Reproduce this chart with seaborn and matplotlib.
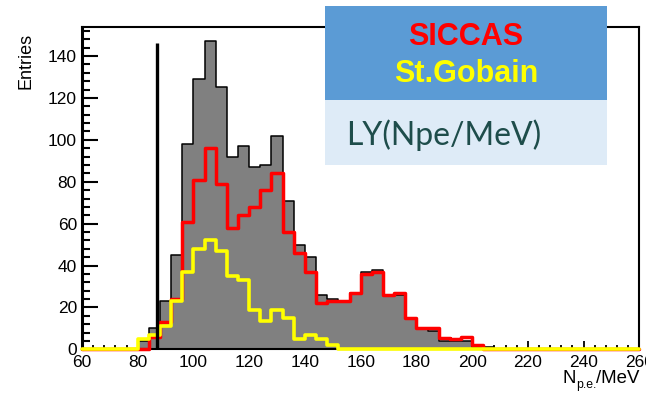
import numpy as np
import pandas as pd
import matplotlib
matplotlib.use("Agg")
import matplotlib.pyplot as plt
import seaborn as sns
from matplotlib.patches import Rectangle
from matplotlib.ticker import MultipleLocator

# ---------------- data ----------------
bin_low, bin_high, bin_width = 60, 260, 4
# total (grey filled) histogram, 4-unit bins from 60 to 260
grey_counts = [0, 0, 0, 0, 0, 4, 10, 23, 45, 98,
               129, 147, 125, 92, 97, 87, 88, 102, 71, 50,
               44, 26, 24, 23, 27, 37, 38, 26, 26, 15,
               10, 9, 4, 4, 4, 1, 1, 0, 0, 0,
               0, 0, 0, 0, 0, 0, 0, 0, 0, 0]
siccas_counts = [0, 0, 0, 0, 0, 0, 6, 13, 24, 61,
                 81, 96, 79, 58, 64, 68, 76, 84, 56, 46,
                 37, 22, 23, 23, 27, 36, 37, 26, 27, 15,
                 10, 10, 5.5, 5, 6, 2, 0, 0, 0, 0,
                 0, 0, 0, 0, 0, 0, 0, 0, 0, 0]
stgobain_counts = [0, 0, 0, 0, 0, 5, 7, 11, 23, 37,
                   48, 52, 47, 35, 33, 19, 13.5, 19, 15, 5,
                   7, 5, 2, 0, 0, 0, 0, 0, 0, 0,
                   0, 0, 0, 0, 0, 0, 0, 0, 0, 0,
                   0, 0, 0, 0, 0, 0, 0, 0, 0, 0]
x_ticks = [60, 80, 100, 120, 140, 160, 180, 200, 220, 240, 260]
y_ticks = [0, 20, 40, 60, 80, 100, 120, 140]
cut_position = 87
cut_height = 146
legend_titles = ["SICCAS", "St.Gobain"]
legend_subtitle = "LY(Npe/MeV)"
x_label_parts = ["N", "p.e.", "/MeV"]
y_label = "Entries"

# ---------------- style ----------------
sns.set_theme(style="ticks")
plt.rcParams['font.family'] = ['Liberation Sans', 'DejaVu Sans']

edges = np.arange(bin_low, bin_high + bin_width, bin_width)
bin_list = [float(e) for e in edges]
centers = edges[:-1] + bin_width / 2
df = pd.DataFrame({"npe": centers, "grey": grey_counts})
# step outlines (bin edges with the last height repeated)
steps = pd.DataFrame({
    "edge": edges,
    "siccas": list(siccas_counts) + [siccas_counts[-1]],
    "stgobain": list(stgobain_counts) + [stgobain_counts[-1]],
})

fig = plt.figure(figsize=(6.46, 3.93), dpi=100)
ax = fig.add_axes([82 / 646, 1 - 349.4 / 393, (639.3 - 82) / 646, (349.4 - 26.7) / 393])

sns.histplot(data=df, x="npe", weights="grey", bins=bin_list, element="step",
             fill=True, color="#808080", alpha=1, edgecolor="black",
             linewidth=1.1, ax=ax, zorder=2)
sns.lineplot(data=steps, x="edge", y="siccas", drawstyle="steps-post",
             estimator=None, sort=False, color="#ff0000", linewidth=2.5,
             ax=ax, zorder=3, clip_on=False)
sns.lineplot(data=steps, x="edge", y="stgobain", drawstyle="steps-post",
             estimator=None, sort=False, color="#ffff00", linewidth=2.6,
             ax=ax, zorder=4, clip_on=False)
ax.vlines(cut_position, 0, cut_height, color="black", linewidth=2.4, zorder=5)

ax.set_xlim(bin_low, bin_high)
ax.set_ylim(0, 154)
ax.set_xlabel("")
ax.set_ylabel("")
ax.set_xticks(x_ticks)
ax.set_yticks(y_ticks)
ax.xaxis.set_minor_locator(MultipleLocator(4))
ax.yaxis.set_minor_locator(MultipleLocator(4))
ax.tick_params(axis="y", which="major", direction="in", length=11.5, width=1.5,
               pad=3.6, labelsize=12.5, colors="black")
ax.tick_params(axis="y", which="minor", direction="in", length=5.8, width=1.5,
               colors="black")
ax.tick_params(axis="x", which="major", direction="in", length=5.8, width=1.3,
               pad=4, labelsize=12.5, colors="black")
ax.tick_params(axis="x", which="minor", direction="in", length=3.2, width=1.3,
               colors="black")
for side, sp in ax.spines.items():
    sp.set_color("black")
    sp.set_linewidth(1.5)
ax.spines["left"].set_linewidth(2.2)

fig.text(26 / 646, 1 - 61 / 393, y_label, rotation=90, ha="center",
         va="center", fontsize=13, color="black")

# x-axis title built right-to-left: "N" + subscript "p.e." + "/MeV"
renderer = fig.canvas.get_renderer()
right_px = 639.5
t_mev = fig.text(right_px / 646, 1 - 383.3 / 393, x_label_parts[2],
                 ha="right", va="baseline", fontsize=13.4, color="black")
w = t_mev.get_window_extent(renderer).width
right_px -= w
t_sub = fig.text(right_px / 646, 1 - 388 / 393, x_label_parts[1],
                 ha="right", va="baseline", fontsize=8.8, color="black")
w = t_sub.get_window_extent(renderer).width
right_px -= w
fig.text(right_px / 646, 1 - 383.3 / 393, x_label_parts[0],
         ha="right", va="baseline", fontsize=13.4, color="black")

# legend-like annotation box
fig.add_artist(Rectangle((325 / 646, 1 - 100 / 393), (606.7 - 325) / 646,
                         94 / 393, transform=fig.transFigure,
                         facecolor="#5b9bd5", edgecolor="none", zorder=10))
fig.add_artist(Rectangle((325 / 646, 1 - 165 / 393), (606.7 - 325) / 646,
                         65 / 393, transform=fig.transFigure,
                         facecolor="#deebf7", edgecolor="none", zorder=10))
fig.text(466 / 646, 1 - 45 / 393, legend_titles[0], ha="center", va="baseline",
         fontsize=22, fontweight="bold", color="#ff0000", zorder=11)
fig.text(466 / 646, 1 - 81.5 / 393, legend_titles[1], ha="center",
         va="baseline", fontsize=22, fontweight="bold", color="#ffff00",
         zorder=11)
fig.text(346 / 646, 1 - 145 / 393, legend_subtitle, ha="left", va="baseline",
         fontsize=23, family=["Lato", "DejaVu Sans"], color="#1e4d4b",
         zorder=11)

fig.savefig("out.png", dpi=100)
